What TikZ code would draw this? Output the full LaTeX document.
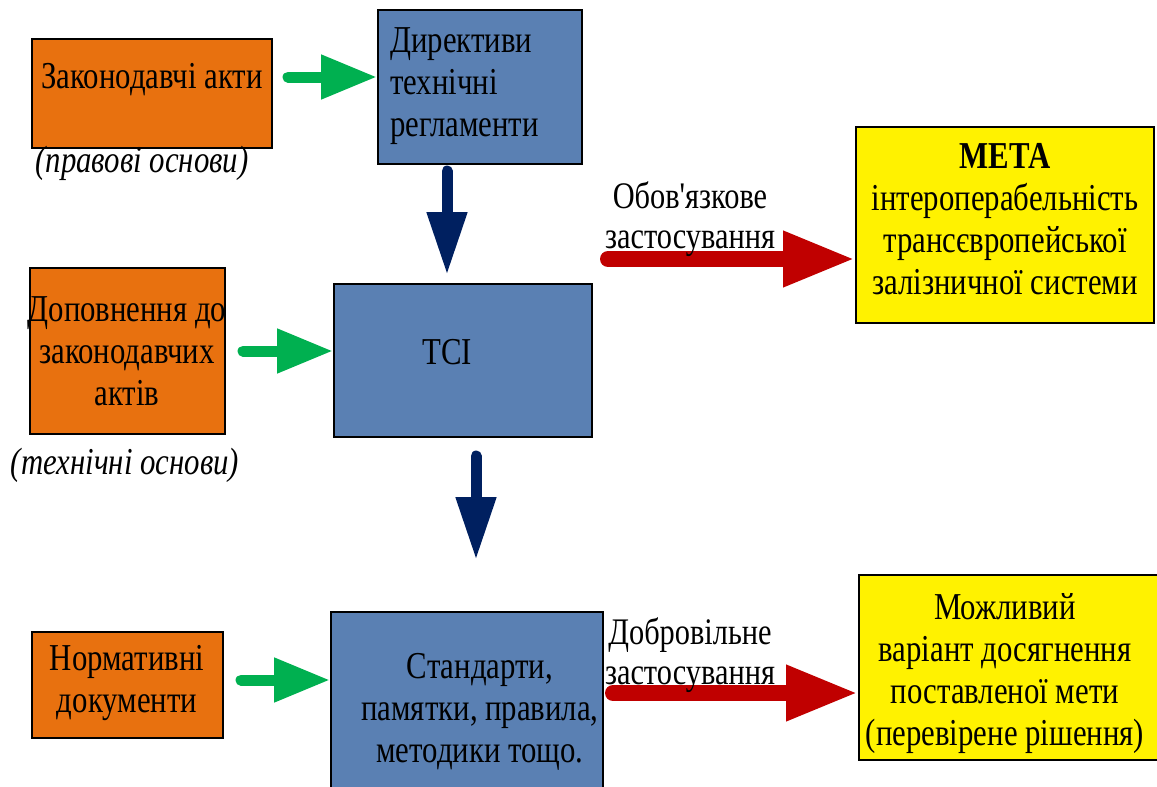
\documentclass[tikz,border=0pt]{standalone}
\usepackage{fontspec}
\setmainfont{Liberation Serif}[Ligatures=TeXOff, FakeStretch=0.81]
\usetikzlibrary{arrows.meta}
\definecolor{boxorange}{HTML}{E8710F}
\definecolor{boxblue}{HTML}{5A80B3}
\definecolor{arrgreen}{HTML}{00B050}
\definecolor{arrnavy}{HTML}{002060}
\definecolor{arrred}{HTML}{C00000}
\tikzset{
  box/.style={draw=black, line width=2pt, rectangle, inner sep=0pt},
  obox/.style={box, fill=boxorange},
  bbox/.style={box, fill=boxblue},
  ybox/.style={box, fill=yellow},
  txt/.style={font=\fontsize{38}{42}\selectfont, align=center, inner sep=0pt},
  itxt/.style={txt, font=\fontsize{38}{42}\selectfont\itshape},
  lbl/.style={font=\fontsize{37.5}{40}\selectfont, align=center, inner sep=0pt},
  garrow/.style={draw=arrgreen, line width=11pt, line cap=round, -{Triangle[length=56pt 0 0, width=42pt 0 0]}},
  narrow/.style={draw=arrnavy, line width=11pt, line cap=round, -{Triangle[length=63pt 0 0, width=38pt 0 0]}},
  rarrow/.style={draw=arrred, line width=16pt, line cap=round, -{Triangle[length=72pt 0 0, width=52pt 0 0]}},
}
\begin{document}
\begin{tikzpicture}[x=1pt, y=-1pt]
\useasboundingbox (0,0) rectangle (1157,787);
% boxes
\node[obox, minimum width=240pt, minimum height=109pt] (zak) at (152,93) {};
\node[bbox, minimum width=204pt, minimum height=154pt] (dir) at (480,87) {};
\node[obox, minimum width=195pt, minimum height=166pt] (dop) at (127,351) {};
\node[bbox, minimum width=258pt, minimum height=153pt] (tci) at (463,360) {};
\node[obox, minimum width=191pt, minimum height=106pt] (norm) at (127,685) {};
\node[bbox, minimum width=272pt, minimum height=190pt] (std) at (467,707) {};
\node[ybox, minimum width=298pt, minimum height=196pt] (meta) at (1005,225) {};
\node[ybox, minimum width=300pt, minimum height=185pt] (mozh) at (1009,667) {};
% texts
\node[txt] (tzak) at (152,80) {Законодавчі акти};
\node[itxt] (tprav) at (142,163) {(правові основи)};
\node[txt, align=left, anchor=west] (tdir) at (390,86) {Директиви\\технічні\\регламенти};
\node[txt] (tdop) at (127,351) {Доповнення до\\законодавчих\\актів};
\node[itxt] (ttech) at (125,465) {(технічні основи)};
\node[txt] (ttci) at (447,352) {TCI};
\node[txt] (tnorm) at (127,683) {Нормативні\\документи};
\node[txt] (tstd) at (480,712) {Стандарти,\\памятки, правила,\\методики тощо.};
\node[txt] (tmeta) at (1005,219) {\textbf{МЕТА}\\інтероперабельність\\трансєвропейської\\залізничної системи};
\node[txt] (tmozh) at (1005,674) {Можливий\\варіант досягнення\\поставленої мети\\(перевірене рішення)};
% connectors
\coordinate (g1) at (288,77);
\coordinate (g2) at (243,351);
\coordinate (g3) at (241,680);
\draw[garrow] (g1) -- (g1 -| dir.west);
\draw[garrow] (g2) -- (g2 -| tci.west);
\draw[garrow] (g3) -- (g3 -| std.west);
\coordinate (n1s) at (447,171);
\coordinate (n1e) at (447,275);
\coordinate (n2s) at (476,456);
\coordinate (n2e) at (476,560);
\draw[narrow] (n1s) -- (n1e);
\draw[narrow] (n2s) -- (n2e);
\coordinate (r1) at (608,259);
\coordinate (r2) at (613,693);
\draw[rarrow] (r1) -- (r1 -| meta.west);
\draw[rarrow] (r2) -- (r2 -| mozh.west);
% connector labels
\node[lbl] (tobov) at (690,219) {Обов'язкове\\застосування};
\node[lbl] (tdobr) at (690,655) {Добровільне\\застосування};
\end{tikzpicture}
\end{document}
